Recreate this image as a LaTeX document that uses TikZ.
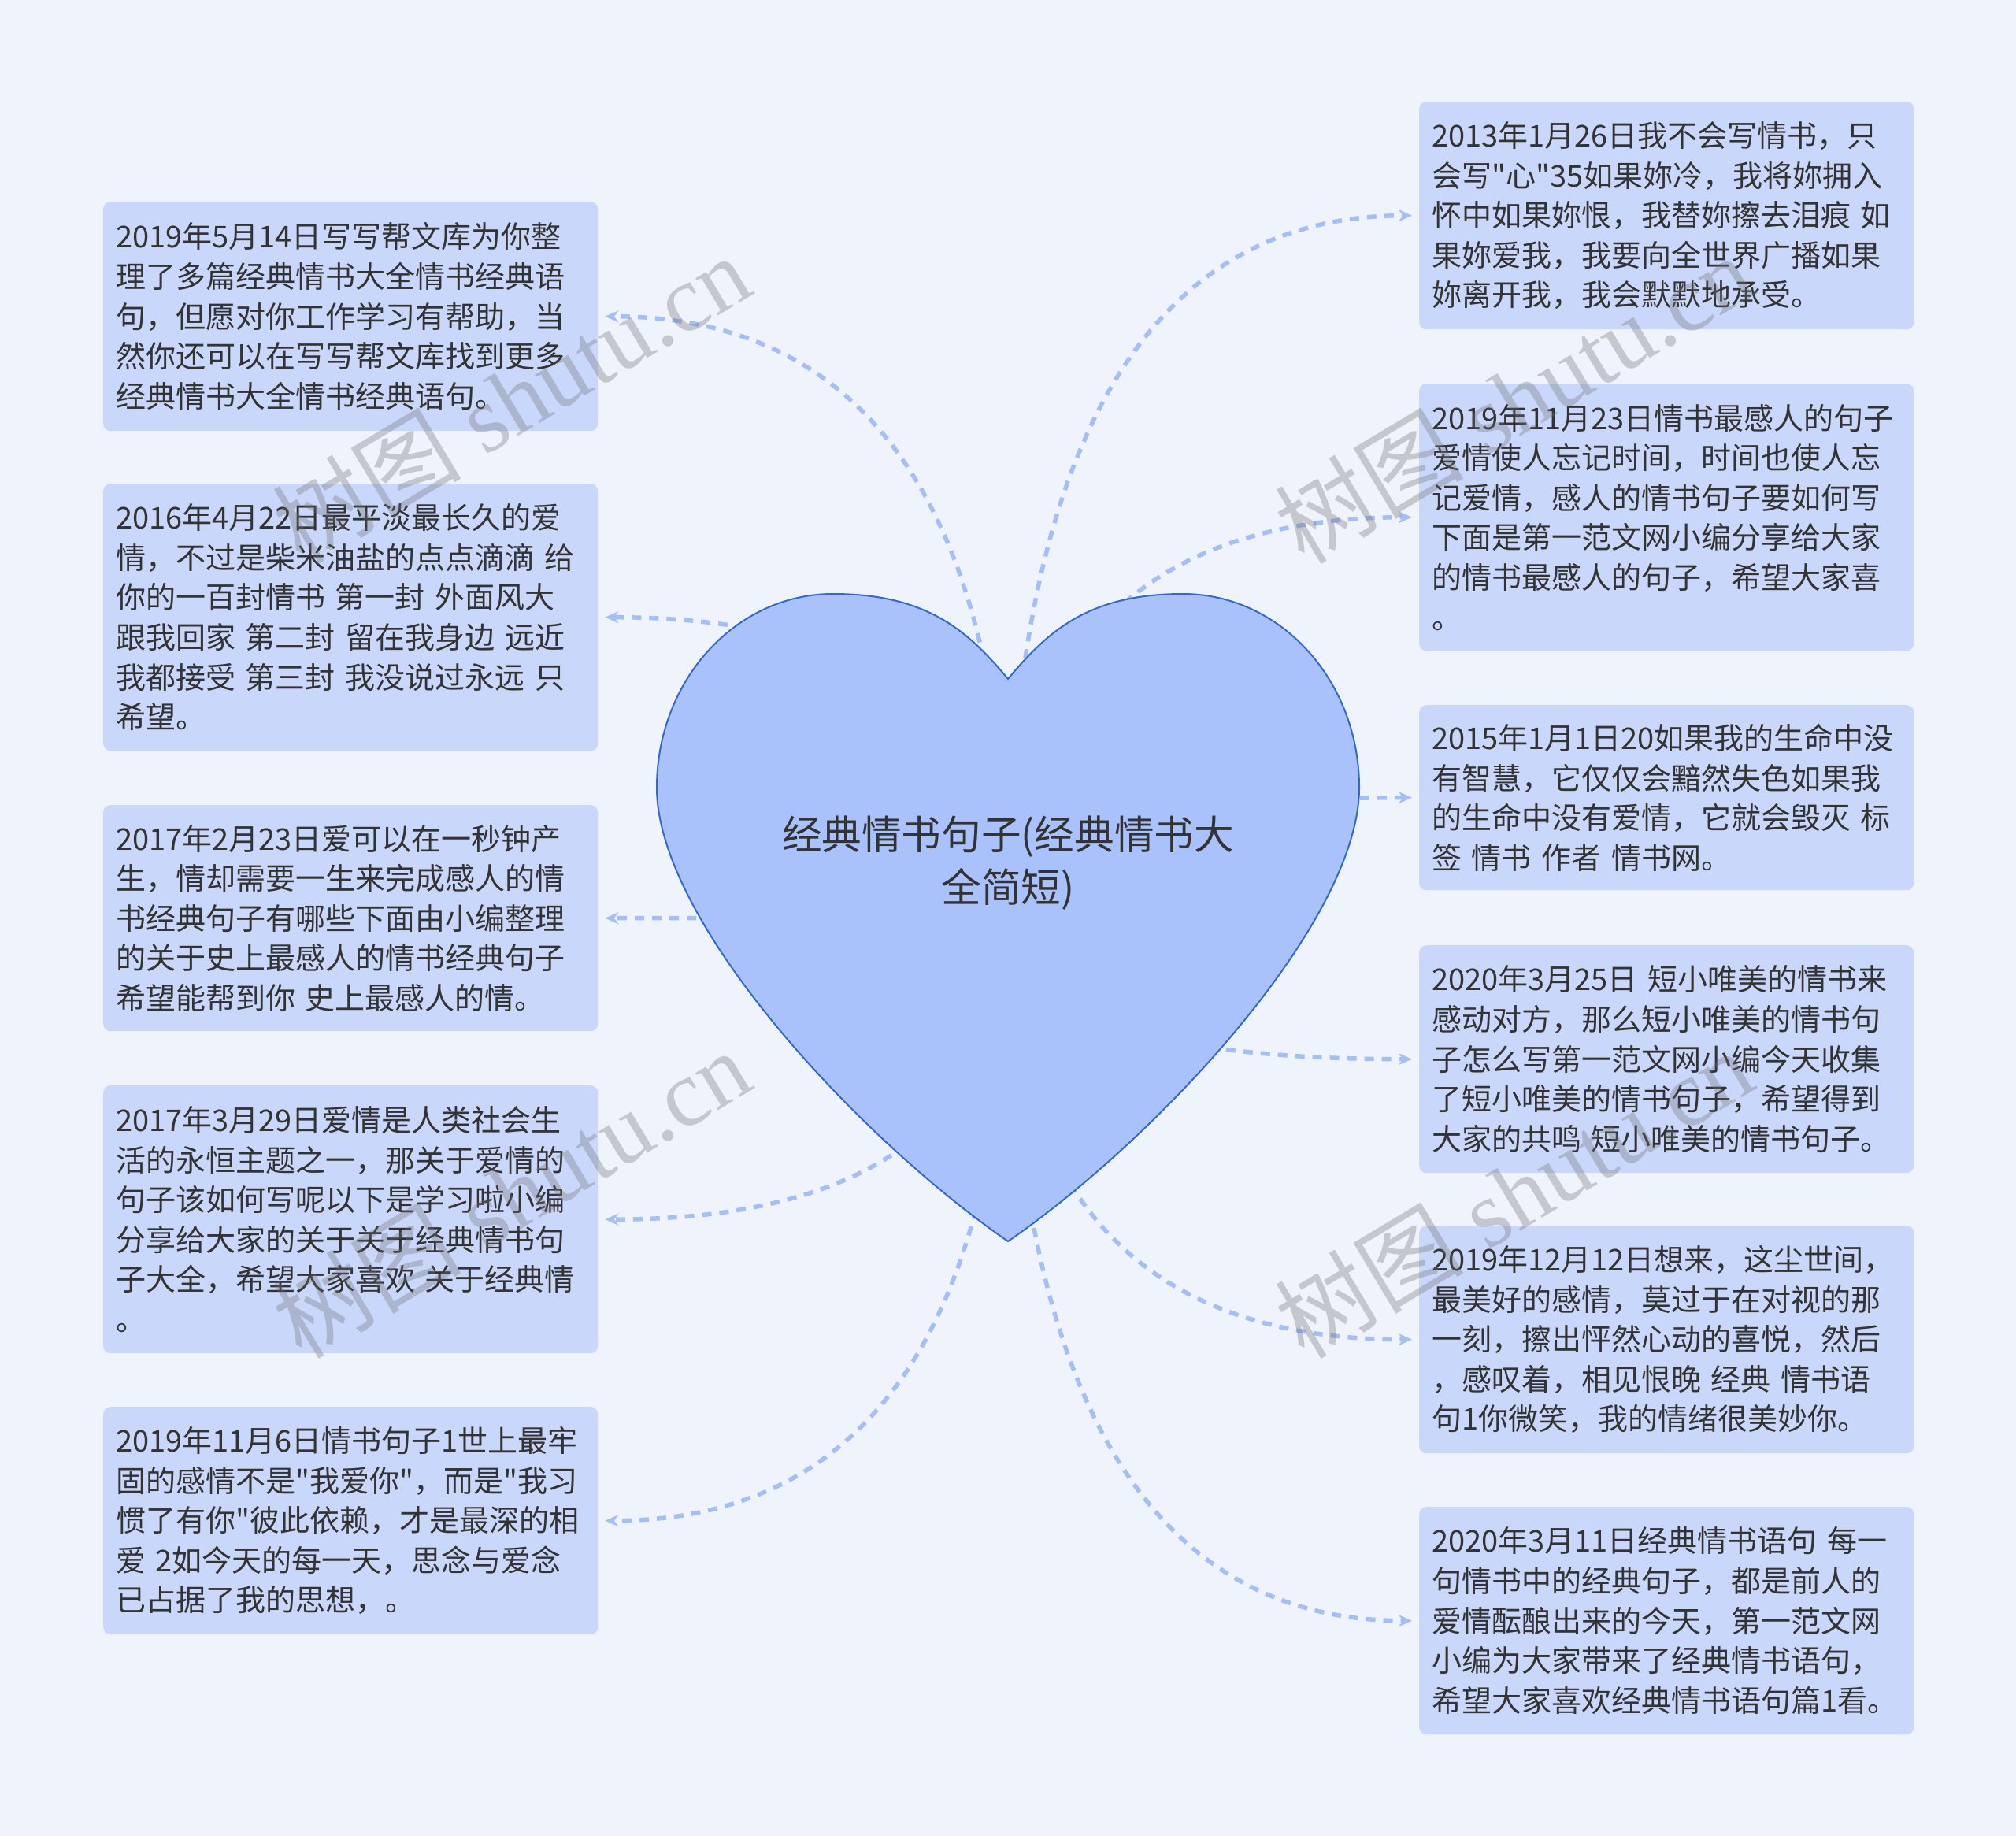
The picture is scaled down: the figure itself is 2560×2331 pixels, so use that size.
\documentclass[tikz,border=0pt]{standalone}
\usepackage{fontspec}
\newfontfamily\cjk{Noto Sans CJK SC}
\newfontfamily\wmfont{Liberation Serif}
\usetikzlibrary{arrows.meta,calc}
\definecolor{bgc}{RGB}{239,244,252}
\definecolor{boxc}{RGB}{201,216,250}
\definecolor{heartc}{RGB}{170,194,251}
\definecolor{heartline}{RGB}{52,104,205}
\definecolor{linkc}{RGB}{165,190,243}
\definecolor{txtc}{RGB}{51,51,51}
\definecolor{wmc}{RGB}{110,110,115}
\begin{document}
\begin{tikzpicture}[x=1pt,y=-1pt,
 box/.style={rectangle, rounded corners=9pt, fill=boxc, text=txtc,
   font=\cjk\fontsize{38}{50.6}\selectfont, align=left, text width=596pt,
   inner xsep=16pt, inner ysep=0pt, anchor=north west},
 link/.style={draw=linkc, line width=5.5pt, dash pattern=on 12pt off 10pt,
   -{Stealth[length=17pt,width=15pt]}, shorten >=9pt},
 wm/.style={font=\wmfont\fontsize{120}{120}\selectfont, text=wmc, text opacity=0.33, rotate=31}
]
\fill[bgc] (0,0) rectangle (2560,2331);
\useasboundingbox (0,0) rectangle (2560,2331);

% boxes
\node[box, minimum height=291pt] (L1) at (131,256) {2019年5月14日写写帮文库为你整\\理了多篇经典情书大全情书经典语\\句，但愿对你工作学习有帮助，当\\然你还可以在写写帮文库找到更多\\经典情书大全情书经典语句。};
\node[box, minimum height=339pt] (L2) at (131,614) {2016年4月22日最平淡最长久的爱\\情，不过是柴米油盐的点点滴滴~给\\你的一百封情书~第一封~外面风大\\跟我回家~第二封~留在我身边~远近\\我都接受~第三封~我没说过永远~只\\希望。};
\node[box, minimum height=287pt] (L3) at (131,1022) {2017年2月23日爱可以在一秒钟产\\生，情却需要一生来完成感人的情\\书经典句子有哪些下面由小编整理\\的关于史上最感人的情书经典句子\\希望能帮到你~史上最感人的情。};
\node[box, minimum height=340pt] (L4) at (131,1378) {2017年3月29日爱情是人类社会生\\活的永恒主题之一，那关于爱情的\\句子该如何写呢以下是学习啦小编\\分享给大家的关于关于经典情书句\\子大全，希望大家喜欢~关于经典情\\。};
\node[box, minimum height=289pt] (L5) at (131,1786) {2019年11月6日情书句子1世上最牢\\固的感情不是"我爱你"，而是"我习\\惯了有你"彼此依赖，才是最深的相\\爱~2如今天的每一天，思念与爱念\\已占据了我的思想，。};

\node[box, minimum height=289pt] (R1) at (1802,129) {2013年1月26日我不会写情书，只\\会写"心"35如果妳冷，我将妳拥入\\怀中如果妳恨，我替妳擦去泪痕~如\\果妳爱我，我要向全世界广播如果\\妳离开我，我会默默地承受。};
\node[box, minimum height=339pt] (R2) at (1802,487) {2019年11月23日情书最感人的句子\\爱情使人忘记时间，时间也使人忘\\记爱情，感人的情书句子要如何写\\下面是第一范文网小编分享给大家\\的情书最感人的句子，希望大家喜\\。};
\node[box, minimum height=235pt] (R3) at (1802,895) {2015年1月1日20如果我的生命中没\\有智慧，它仅仅会黯然失色如果我\\的生命中没有爱情，它就会毁灭~标\\签~情书~作者~情书网。};
\node[box, minimum height=289pt] (R4) at (1802,1200) {2020年3月25日~短小唯美的情书来\\感动对方，那么短小唯美的情书句\\子怎么写第一范文网小编今天收集\\了短小唯美的情书句子，希望得到\\大家的共鸣~短小唯美的情书句子。};
\node[box, minimum height=289pt] (R5) at (1802,1556) {2019年12月12日想来，这尘世间，\\最美好的感情，莫过于在对视的那\\一刻，擦出怦然心动的喜悦，然后\\，感叹着，相见恨晚~经典~情书语\\句1你微笑，我的情绪很美妙你。};
\node[box, minimum height=289pt] (R6) at (1802,1913) {2020年3月11日经典情书语句~每一\\句情书中的经典句子，都是前人的\\爱情酝酿出来的今天，第一范文网\\小编为大家带来了经典情书语句，\\希望大家喜欢经典情书语句篇1看。};

% connectors
\coordinate (hc) at (1280,1165);
\foreach \n in {L1,L2,L3,L4,L5}{
  \draw[link] (hc) .. controls ($(hc)!2/3!(hc|-\n.east)$) and ($(\n.east)!2/3!(hc|-\n.east)$) .. (\n.east);
}
\foreach \n in {R1,R2,R3,R4,R5,R6}{
  \draw[link] (hc) .. controls ($(hc)!2/3!(hc|-\n.west)$) and ($(\n.west)!2/3!(hc|-\n.west)$) .. (\n.west);
}

% heart
\draw[fill=heartc, draw=heartline, line width=2pt]
  (1280,862) .. controls (1330,802) and (1382,754) .. (1502,754)
  .. controls (1626,754) and (1726,864) .. (1726,1000)
  .. controls (1726,1170) and (1470,1445) .. (1280,1576)
  .. controls (1090,1445) and (834,1170) .. (834,1000)
  .. controls (834,864) and (934,754) .. (1058,754)
  .. controls (1178,754) and (1230,802) .. cycle;
\node[font=\cjk\fontsize{50.6}{67}\selectfont, text=txtc, align=center] (root) at (1280,1096) {经典情书句子(经典情书大\\全简短)};

% watermarks
\node[wm] (w1) at (649,506) {{\cjk 树图} shutu.cn};
\node[wm] (w2) at (649,1515) {{\cjk 树图} shutu.cn};
\node[wm] (w3) at (1922,506) {{\cjk 树图} shutu.cn};
\node[wm] (w4) at (1922,1515) {{\cjk 树图} shutu.cn};
\end{tikzpicture}
\end{document}
